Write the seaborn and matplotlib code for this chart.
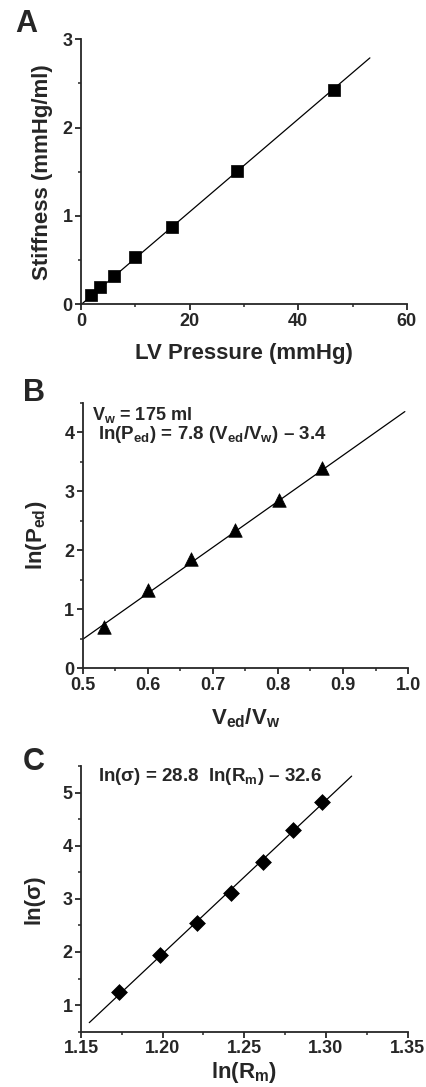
import numpy as np
import pandas as pd
import matplotlib
matplotlib.use("Agg")
import matplotlib.pyplot as plt
import seaborn as sns
from matplotlib.ticker import MultipleLocator

# panel A: stiffness vs LV pressure
pressure = [1.8, 3.5, 6.1, 10.0, 16.8, 28.8, 46.5]
stiffness = [0.10, 0.19, 0.32, 0.53, 0.88, 1.51, 2.43]
fit_a_x = [0.1, 53.2]
fit_a_y = [0.0, 2.79]

# panel B: ln(Ped) vs Ved/Vw
ved_vw = [0.533, 0.601, 0.666, 0.734, 0.801, 0.868]
ln_ped = [0.70, 1.32, 1.86, 2.35, 2.85, 3.39]
fit_b_x = [0.5, 0.995]
fit_b_y = [0.49, 4.35]

# panel C: ln(sigma) vs ln(Rm)
ln_rm = [1.1734, 1.1984, 1.2210, 1.2416, 1.2616, 1.2798, 1.2975]
ln_sigma = [1.24, 1.94, 2.55, 3.11, 3.69, 4.29, 4.83]
fit_c_x = [1.1551, 1.3157]
fit_c_y = [0.67, 5.31]

a_xticks = [0, 20, 40, 60]
a_yticks = [0, 1, 2, 3]
b_xticks = [0.5, 0.6, 0.7, 0.8, 0.9, 1.0]
b_yticks = [0, 1, 2, 3, 4]
c_xticks = [1.15, 1.20, 1.25, 1.30, 1.35]
c_yticks = [1, 2, 3, 4, 5]

sns.set_style("ticks")
plt.rcParams['font.family'] = ['Liberation Sans', 'DejaVu Sans']
plt.rcParams['font.weight'] = 'bold'
plt.rcParams['axes.labelweight'] = 'bold'
plt.rcParams['axes.linewidth'] = 1.3
plt.rcParams['xtick.major.width'] = 1.3
plt.rcParams['ytick.major.width'] = 1.3
plt.rcParams['xtick.minor.width'] = 1.1
plt.rcParams['ytick.minor.width'] = 1.1
plt.rcParams['xtick.major.size'] = 4
plt.rcParams['ytick.major.size'] = 4
plt.rcParams['xtick.minor.size'] = 2
plt.rcParams['ytick.minor.size'] = 2
plt.rcParams['mathtext.fontset'] = 'custom'
plt.rcParams['mathtext.rm'] = 'Liberation Sans:bold'
plt.rcParams['mathtext.it'] = 'Liberation Sans:bold'
plt.rcParams['mathtext.bf'] = 'Liberation Sans:bold'

fig = plt.figure(figsize=(4.26, 10.87), dpi=100)
ax_a = fig.add_axes([0.190, 0.7201, 0.765, 0.2437])
ax_b = fig.add_axes([0.194, 0.3852, 0.764, 0.2443])
ax_c = fig.add_axes([0.190, 0.0509, 0.767, 0.2444])

df_a = pd.DataFrame({"x": pressure, "y": stiffness})
df_b = pd.DataFrame({"x": ved_vw, "y": ln_ped})
df_c = pd.DataFrame({"x": ln_rm, "y": ln_sigma})

panels = [
    (ax_a, df_a, fit_a_x, fit_a_y, "s", 80),
    (ax_b, df_b, fit_b_x, fit_b_y, "^", 95),
    (ax_c, df_c, fit_c_x, fit_c_y, "D", 65),
]
for ax, df, fx, fy, mk, size in panels:
    sns.lineplot(x=fx, y=fy, ax=ax, color="black", linewidth=0.9)
    sns.scatterplot(data=df, x="x", y="y", ax=ax, marker=mk, s=size,
                    color="black", edgecolor="black", linewidth=0.5, zorder=3)
    sns.despine(ax=ax)

# A
ax_a.set_xlim(0, 60)
ax_a.set_ylim(0, 3)
ax_a.set_xticks(a_xticks)
ax_a.set_xticklabels([str(v) for v in a_xticks])
ax_a.set_yticks(a_yticks)
ax_a.set_yticklabels([str(v) for v in a_yticks])
ax_a.xaxis.set_minor_locator(MultipleLocator(10))
ax_a.yaxis.set_minor_locator(MultipleLocator(0.5))
ax_a.set_xlabel("LV Pressure (mmHg)", fontsize=16, fontweight='bold', labelpad=10)
ax_a.set_ylabel("Stiffness (mmHg/ml)", fontsize=16, fontweight='bold', labelpad=7)

# B
ax_b.set_xlim(0.5, 1.0)
ax_b.set_ylim(0, 4.5)
ax_b.set_xticks(b_xticks)
ax_b.set_xticklabels([f"{v:.1f}" for v in b_xticks])
ax_b.set_yticks(b_yticks)
ax_b.set_yticklabels([str(v) for v in b_yticks])
ax_b.xaxis.set_minor_locator(MultipleLocator(0.05))
ax_b.yaxis.set_minor_locator(MultipleLocator(0.5))
ax_b.set_xlabel(r"V$\mathregular{_{ed}}$/V$\mathregular{_w}$", fontsize=16, fontweight='bold', labelpad=9)
ax_b.set_ylabel(r"ln(P$\mathregular{_{ed}}$)", fontsize=16, fontweight='bold', labelpad=11)
ax_b.text(0.03, 0.99, r"V$\mathregular{_w}$ = 175 ml", transform=ax_b.transAxes,
          fontsize=13, fontweight='bold', va='top', ha='left')
ax_b.text(0.047, 0.92, r"ln(P$\mathregular{_{ed}}$) = 7.8 (V$\mathregular{_{ed}}$/V$\mathregular{_w}$) – 3.4",
          transform=ax_b.transAxes, fontsize=13.5, fontweight='bold', va='top', ha='left')

# C
ax_c.set_xlim(1.15, 1.35)
ax_c.set_ylim(0.5, 5.5)
ax_c.set_xticks(c_xticks)
ax_c.set_xticklabels([f"{v:.2f}" for v in c_xticks])
ax_c.set_yticks(c_yticks)
ax_c.set_yticklabels([str(v) for v in c_yticks])
ax_c.xaxis.set_minor_locator(MultipleLocator(0.025))
ax_c.yaxis.set_minor_locator(MultipleLocator(0.5))
ax_c.set_xlabel(r"ln(R$\mathregular{_m}$)", fontsize=16, fontweight='bold', labelpad=2)
ax_c.set_ylabel("ln(σ)", fontsize=16, fontweight='bold', labelpad=13)
ax_c.text(0.053, 1.0, r"ln(σ) = 28.8  ln(R$\mathregular{_m}$) – 32.6",
          transform=ax_c.transAxes, fontsize=13.5, fontweight='bold', va='top', ha='left')

for ax in (ax_a, ax_b, ax_c):
    ax.tick_params(labelsize=13, pad=2)
    for lab in ax.get_xticklabels() + ax.get_yticklabels():
        lab.set_fontweight('bold')
        lab.set_fontsize(13)

# panel letters
fig.text(0.036, 0.992, "A", fontsize=22, fontweight='bold', va='top', ha='left')
fig.text(0.053, 0.652, "B", fontsize=22, fontweight='bold', va='top', ha='left')
fig.text(0.053, 0.313, "C", fontsize=22, fontweight='bold', va='top', ha='left')

fig.savefig("out.png", dpi=100)
